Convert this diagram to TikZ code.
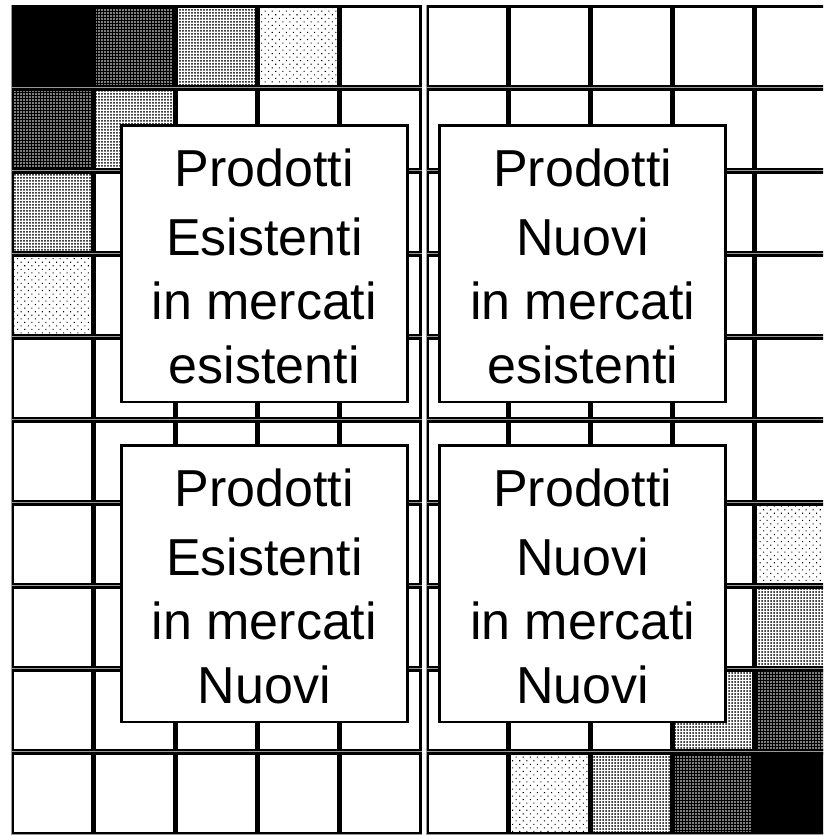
\documentclass[tikz,border=0pt]{standalone}
\usepackage{fontspec}
\setmainfont{Liberation Sans}
\usetikzlibrary{patterns.meta}

\tikzset{
  cellrim/.style={draw=black!40, line width=0.9pt},
  cellline/.style={draw=black, line width=2.6pt},
  solid/.style={fill=black},
  darkdots/.style={preaction={fill=black}, pattern={Dots[distance=3pt, radius=0.85pt]}, pattern color=white},
  middots/.style={preaction={fill=white}, pattern={Dots[distance=3pt, radius=1.0pt]}, pattern color=black},
  lightdots/.style={preaction={fill=white}, pattern={Dots[distance=5pt, radius=0.75pt, angle=45]}, pattern color=black},
  quadbox/.style={draw=black, line width=2.6pt, fill=white, inner sep=0pt,
    minimum width=286pt, minimum height=276.7pt},
  linetext/.style={anchor=base, inner sep=0pt, font=\fontsize{52}{62}\selectfont},
}

% four text lines set inside a box, measured down from its top edge
\newcommand\boxlines[5]{%
  \node[linetext] (#1-1) at ([yshift=-62pt]#1.north) {#2};
  \node[linetext] (#1-2) at ([yshift=-131.4pt]#1.north) {#3};
  \node[linetext] (#1-3) at ([yshift=-195.4pt]#1.north) {#4};
  \node[linetext] (#1-4) at ([yshift=-259pt]#1.north) {#5};
}

\begin{document}
\begin{tikzpicture}[x=1pt, y=-1pt]
  \useasboundingbox (0,0) rectangle (823,835);
  \fill[white] (0,0) rectangle (823,835);
  \clip (0,0) rectangle (823,835);

  % shaded squares in the two opposite corners (top-left corner given)
  \foreach \x/\y/\s in {
      11.7/5.3/solid, 93.7/5.3/darkdots, 175.7/5.3/middots, 257.7/5.3/lightdots,
      11.7/88.3/darkdots, 93.7/88.3/middots, 11.7/171.3/middots, 11.7/254.3/lightdots,
      754.7/752.3/solid, 672.7/752.3/darkdots, 590.7/752.3/middots, 508.7/752.3/lightdots,
      754.7/669.3/darkdots, 672.7/669.3/middots, 754.7/586.3/middots, 754.7/503.3/lightdots}
    \path[\s] (\x,\y) rectangle ++(82,82);

  % grey outer rims of the grid squares: two halves of five columns, ten rows
  \foreach \c in {0,...,4} {
    \foreach \r in {0,...,9} {
      \draw[cellrim] (11.7+82*\c,5.3+83*\r) rectangle ++(82,82);
      \draw[cellrim] (426.7+82*\c,5.3+83*\r) rectangle ++(82,82);
    }
  }
  % black borders of the grid squares
  \foreach \c in {0,...,4} {
    \foreach \r in {0,...,9} {
      \draw[cellline] (13+82*\c,6.6+83*\r) rectangle ++(79.4,79.4);
      \draw[cellline] (428+82*\c,6.6+83*\r) rectangle ++(79.4,79.4);
    }
  }

  % the four quadrants
  \node[quadbox] (ee) at (264.3,263.7) {};
  \node[quadbox] (ne) at (582.7,263.7) {};
  \node[quadbox] (en) at (264.3,583.7) {};
  \node[quadbox] (nn) at (582.7,583.7) {};

  \boxlines{ee}{Prodotti}{Esistenti}{in mercati}{esistenti}
  \boxlines{ne}{Prodotti}{Nuovi}{in mercati}{esistenti}
  \boxlines{en}{Prodotti}{Esistenti}{in mercati}{Nuovi}
  \boxlines{nn}{Prodotti}{Nuovi}{in mercati}{Nuovi}
\end{tikzpicture}
\end{document}
